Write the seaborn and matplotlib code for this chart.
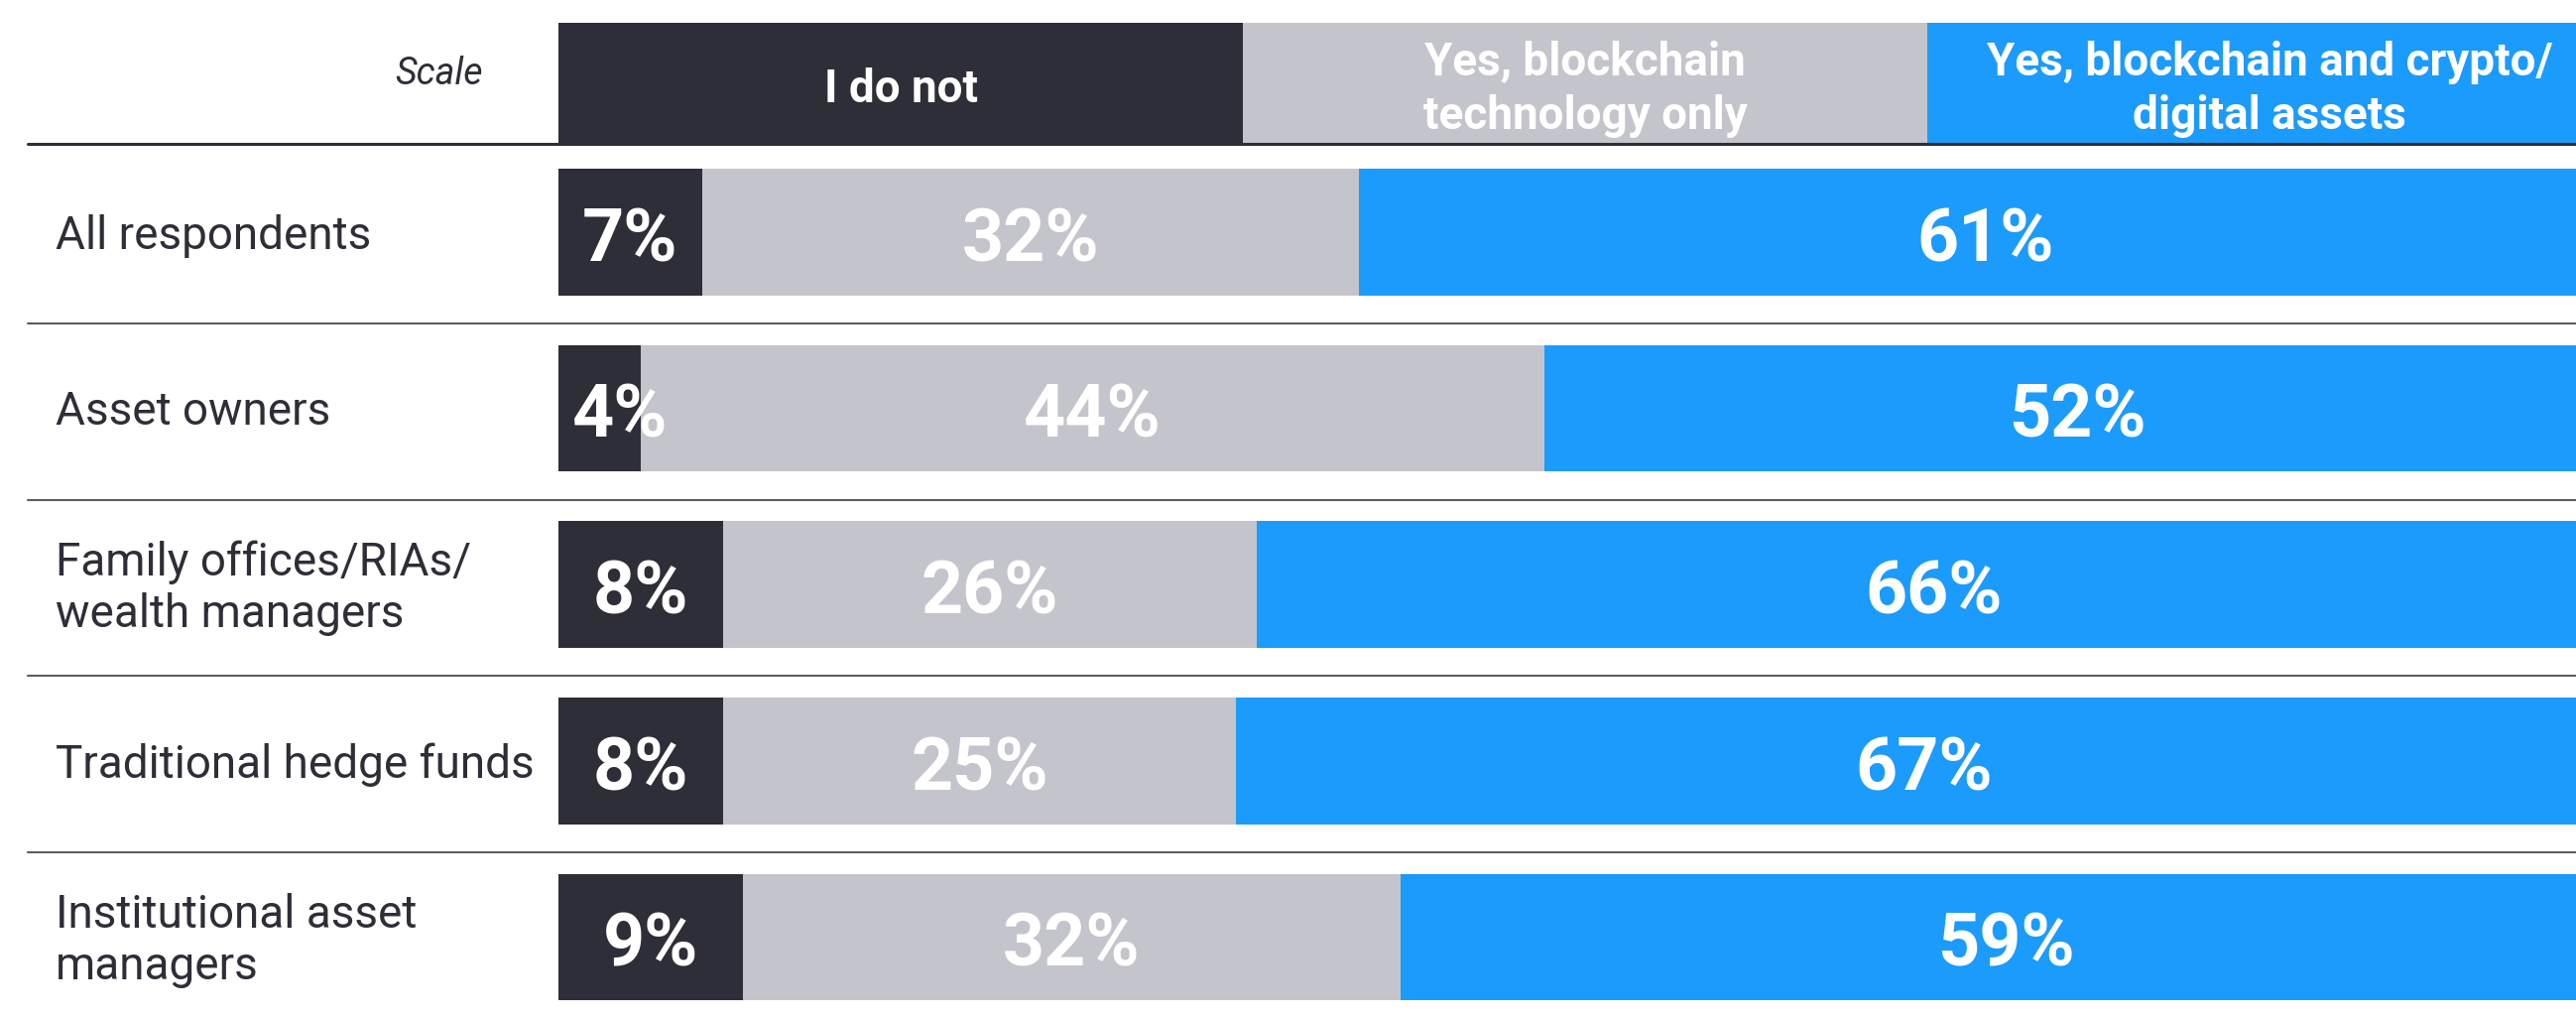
import matplotlib
matplotlib.use("Agg")
import matplotlib.pyplot as plt
from matplotlib.lines import Line2D
from matplotlib.transforms import blended_transform_factory
import numpy as np
import pandas as pd
import seaborn as sns

# Survey groups and answer shares (%)
groups = [
    "All respondents",
    "Asset owners",
    "Family offices/RIAs/\nwealth managers",
    "Traditional hedge funds",
    "Institutional asset\nmanagers",
]
i_do_not = [7, 4, 8, 8, 9]
blockchain_only = [32, 44, 26, 25, 32]
blockchain_and_crypto = [61, 52, 66, 67, 59]
scale_labels = [
    "I do not",
    "Yes, blockchain\ntechnology only",
    "Yes, blockchain and crypto/\ndigital assets",
]

DARK = "#2e2e38"
GRAY = "#c4c4cd"
BLUE = "#1b9bfb"
LINE = "#5c5c66"

sns.set_theme(style="white")
plt.rcParams["font.family"] = ["Roboto", "DejaVu Sans"]

W, H = 2597, 1027
fig = plt.figure(figsize=(W / 100, H / 100), dpi=100)
fig.patch.set_facecolor("white")
left_px = 563
ax = fig.add_axes([left_px / W, 0, 1 - left_px / W, 1])

df = pd.DataFrame({
    "group": groups,
    "no": i_do_not,
    "chain": blockchain_only,
    "crypto": blockchain_and_crypto,
})
df["cum_chain"] = df["no"] + df["chain"]
df["cum_all"] = df["cum_chain"] + df["crypto"]

bar_h = 0.718
# stacked horizontal bars: draw cumulative totals back to front
sns.barplot(data=df, x="cum_all", y="group", color=BLUE, width=bar_h,
            saturation=1, orient="h", ax=ax, linewidth=0)
sns.barplot(data=df, x="cum_chain", y="group", color=GRAY, width=bar_h,
            saturation=1, orient="h", ax=ax, linewidth=0)
sns.barplot(data=df, x="no", y="group", color=DARK, width=bar_h,
            saturation=1, orient="h", ax=ax, linewidth=0)

# scale header boxes
n = len(scale_labels)
hdr_y, hdr_h = -0.842, 0.693
hdr_w = 100 / n
hdr_colors = [DARK, GRAY, BLUE]
for i, (lab, col) in enumerate(zip(scale_labels, hdr_colors)):
    ax.barh(hdr_y, hdr_w, left=i * hdr_w, height=hdr_h, color=col, linewidth=0)
    ax.text(i * hdr_w + hdr_w / 2, hdr_y + 0.03, lab, ha="center", va="center",
            color="white", fontsize=33, fontweight="bold", linespacing=1.3)

# value labels inside segments
val_fs = 53
for i, r in df.iterrows():
    ax.text(max(r["no"] / 2, 3.0), i + 0.01, f"{r['no']}%", ha="center",
            va="center_baseline", color="white", fontsize=val_fs, fontweight="bold")
    ax.text(r["no"] + r["chain"] / 2, i + 0.01, f"{r['chain']}%", ha="center",
            va="center_baseline", color="white", fontsize=val_fs, fontweight="bold")
    ax.text(r["cum_chain"] + r["crypto"] / 2, i + 0.01, f"{r['crypto']}%", ha="center",
            va="center_baseline", color="white", fontsize=val_fs, fontweight="bold")

ax.set_xlim(0, 98.26)
ax.set_ylim(4.465, -1.3176)
ax.set_axis_off()

# row labels and separators, placed in figure x / data y
tr = blended_transform_factory(fig.transFigure, ax.transData)
for i, g in enumerate(groups):
    fig.text(56 / W, i + 0.02, g, transform=tr, ha="left", va="center",
             color=DARK, fontsize=33, fontweight="normal", linespacing=1.22)

fig.text(487 / W, -0.90, "Scale", transform=tr, ha="right", va="center",
         color=DARK, fontsize=27, fontstyle="italic", fontweight="normal")

fig.add_artist(Line2D([28 / W, 1], [-0.5, -0.5], transform=tr,
                      color=DARK, linewidth=2.2))
for yy in [0.518, 1.518, 2.518, 3.518]:
    fig.add_artist(Line2D([28 / W, 1], [yy, yy], transform=tr,
                          color=LINE, linewidth=1.5))

fig.savefig("out.png", dpi=100, facecolor="white")
